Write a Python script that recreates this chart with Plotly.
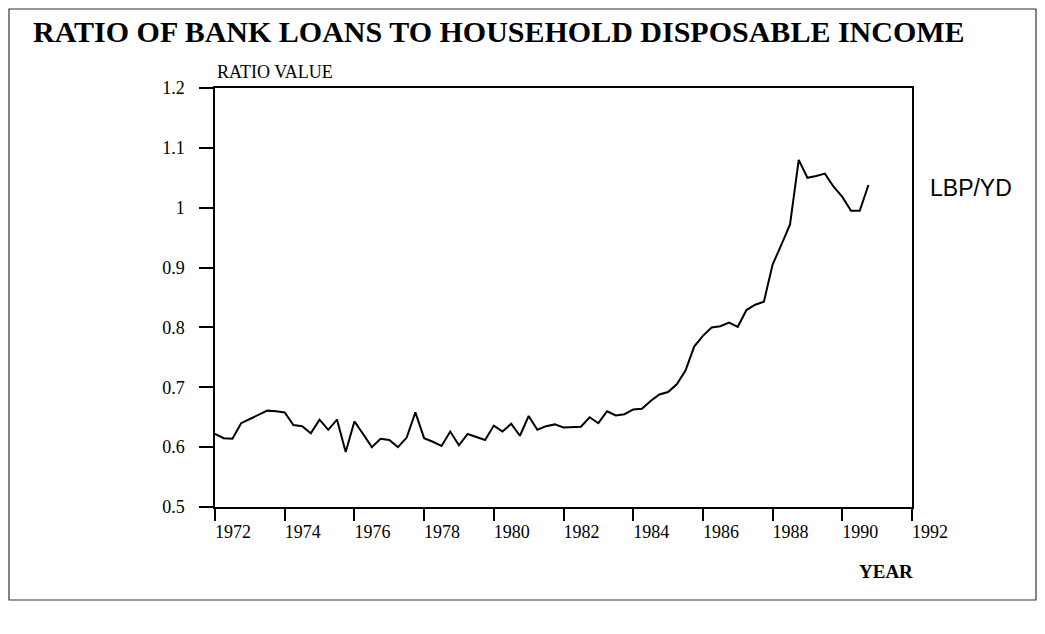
import plotly.graph_objects as go

# Quarterly observations, 1972Q1 .. 1990Q4
years = [1972 + 0.25 * i for i in range(76)]
ratio = [
    0.622, 0.615, 0.614, 0.640, 0.647, 0.654, 0.661, 0.660,   # 1972-1973
    0.658, 0.637, 0.635, 0.623, 0.646, 0.629, 0.646, 0.592,   # 1974-1975
    0.643, 0.622, 0.600, 0.614, 0.612, 0.600, 0.616, 0.658,   # 1976-1977
    0.615, 0.609, 0.602, 0.626, 0.603, 0.622, 0.617, 0.612,   # 1978-1979
    0.636, 0.626, 0.639, 0.619, 0.652, 0.629, 0.635, 0.638,   # 1980-1981
    0.633, 0.634, 0.634, 0.650, 0.640, 0.660, 0.653, 0.655,   # 1982-1983
    0.663, 0.664, 0.677, 0.688, 0.692, 0.705, 0.728, 0.768,   # 1984-1985
    0.786, 0.800, 0.802, 0.808, 0.801, 0.829, 0.838, 0.843,   # 1986-1987
    0.905, 0.938, 0.972, 1.080, 1.050, 1.053, 1.057, 1.035,   # 1988-1989
    1.018, 0.995, 0.995, 1.038,                               # 1990
]

x_ticks = list(range(1972, 1993, 2))
x_tick_text = [str(v) for v in x_ticks]
y_ticks = [0.5, 0.6, 0.7, 0.8, 0.9, 1.0, 1.1, 1.2]
y_tick_text = ["0.5", "0.6", "0.7", "0.8", "0.9", "1", "1.1", "1.2"]

title_text = "RATIO OF BANK LOANS TO HOUSEHOLD DISPOSABLE INCOME"
y_title = "RATIO VALUE"
x_title = "YEAR"
series_name = "LBP/YD"

# The page body has an 8px margin, so the figure is drawn at (8, 8).
OFF = 8
W, H = 1045 - OFF, 634 - OFF
L, R, T, B = 215 - OFF, 912 - OFF, 88 - OFF, 507 - OFF  # plot area in figure px


def px_x(px):
    return (px - OFF - L) / (R - L)


def px_y(py):
    return (B - (py - OFF)) / (B - T)


serif = "Liberation Serif, Times New Roman, serif"
sans = "Liberation Sans, Arial, sans-serif"

fig = go.Figure()
fig.add_trace(go.Scatter(
    x=years, y=ratio, mode="lines",
    line=dict(color="black", width=2),
    name=series_name, showlegend=False,
))

fig.update_layout(
    width=W, height=H,
    margin=dict(l=L, r=W - R, t=T, b=H - B, pad=0),
    paper_bgcolor="white", plot_bgcolor="white",
    title=dict(text="<b>" + title_text + "</b>", x=(33 - OFF) / W, xanchor="left",
               y=1 - (31 - OFF) / H, yanchor="middle",
               font=dict(family=serif, size=30, color="black")),
)

fig.update_xaxes(
    range=[1972, 1992], tickvals=x_ticks, ticktext=x_tick_text,
    showgrid=False, zeroline=False,
    showline=True, linecolor="black", linewidth=1.5, mirror=True,
    ticks="outside", ticklen=12, tickwidth=1.5, tickcolor="black",
    ticklabelshift=18, ticklabelstandoff=-4,
    tickfont=dict(family=serif, size=18, color="black"),
)
fig.update_yaxes(
    range=[0.5, 1.2], tickvals=y_ticks, ticktext=y_tick_text,
    showgrid=False, zeroline=False,
    showline=True, linecolor="black", linewidth=1.5, mirror=True,
    ticks="outside", ticklen=14, tickwidth=1.5, tickcolor="black",
    ticklabelstandoff=11,
    tickfont=dict(family=serif, size=18, color="black"),
)

fig.add_annotation(text=y_title, xref="paper", yref="paper",
                   x=px_x(215), y=px_y(72), xanchor="left", yanchor="middle",
                   showarrow=False, font=dict(family=serif, size=18, color="black"))
fig.add_annotation(text="<b>" + x_title + "</b>", xref="paper", yref="paper",
                   x=px_x(857), y=px_y(571), xanchor="left", yanchor="middle",
                   showarrow=False, font=dict(family=serif, size=19, color="black"))
fig.add_annotation(text=series_name, xref="paper", yref="paper",
                   x=px_x(928), y=px_y(188), xanchor="left", yanchor="middle",
                   showarrow=False, font=dict(family=sans, size=23, color="black"))

# outer frame around the whole chart
fig.add_shape(type="rect", xref="paper", yref="paper",
              x0=px_x(9), x1=px_x(1036), y0=px_y(600), y1=px_y(9),
              line=dict(color="#333333", width=1.2), fillcolor="rgba(0,0,0,0)")

fig.write_html("out.html")
